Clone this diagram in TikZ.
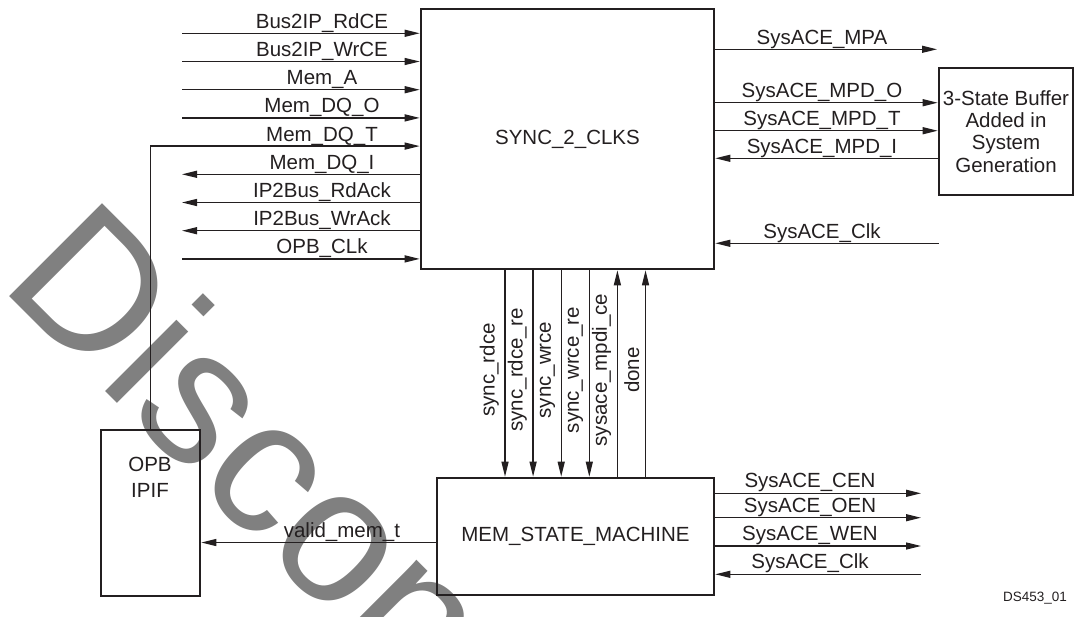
\documentclass[tikz,border=0pt]{standalone}
\usepackage{fontspec}
\setmainfont{Liberation Sans}
\usetikzlibrary{arrows.meta, positioning, calc}
\definecolor{inkblack}{RGB}{35, 31, 32}
\definecolor{markgray}{RGB}{128, 128, 128}
\newcommand{\sigfont}{\fontsize{20.5}{22.3}\selectfont}

\begin{document}
\begin{tikzpicture}[
    x=1pt, y=-1pt,
    >={Triangle[length=15pt, width=7pt]},
    block/.style={rectangle, draw=inkblack, line width=2.6pt, align=center, inner sep=0pt, font=\sigfont, text=inkblack},
    line/.style={draw=inkblack, line width=1.3pt},
    fwd/.style={->},
    bwd/.style={<-},
    siglabel/.style={font=\sigfont, text=inkblack, inner sep=0pt, anchor=base},
    vlabel/.style={siglabel, anchor=south, inner sep=6pt, rotate=90},
    watermark/.style={font=\fontsize{191}{200}\selectfont, text=markgray, inner sep=0pt}
]

% watermark behind everything
\begin{scope}
  \clip (0,0) rectangle (1075,616);
  \node[watermark, anchor=base west, rotate=-45] (wm) at (-1.6,285) {Discontinued};
\end{scope}
\useasboundingbox (0,0) rectangle (1075,616);

\node[block, minimum width=293pt, minimum height=260pt] (sync) at (567.5,139) {SYNC\_2\_CLKS};
\node[block, minimum width=134pt, minimum height=127pt] (buffer) at (1006,131.5) {3-State Buffer\\Added in\\System\\Generation};
\node[block, minimum width=277pt, minimum height=117pt] (mem) at (575.5,536.5) {MEM\_STATE\_MACHINE};
\node[block, minimum width=99pt, minimum height=166pt] (opb) at (150.5,513) {};
\node[siglabel, anchor=center, align=center, font=\fontsize{20.5}{25.7}\selectfont] (opbname) at (150,477.5) {OPB\\IPIF};

% bus side of SYNC_2_CLKS
\foreach \name/\dir [count=\i] in {Bus2IP\_RdCE/fwd, Bus2IP\_WrCE/fwd, Mem\_A/fwd, Mem\_DQ\_O/fwd, Mem\_DQ\_T/fwd, Mem\_DQ\_I/bwd, IP2Bus\_RdAck/bwd, IP2Bus\_WrAck/bwd, OPB\_CLk/fwd} {
  \coordinate (in\i) at (182, 5.1+28.2*\i);
  \draw[line, \dir] (in\i) -- (in\i -| sync.west);
  \node[siglabel] (inlabel\i) at (322, 0.1+28.2*\i) {\name};
}
\draw[line] (opb.north) |- (in5);

% SysACE side of SYNC_2_CLKS
\coordinate (mpa) at (937,49.3);
\draw[line, fwd] (mpa -| sync.east) -- (mpa);
\node[siglabel] (mpalabel) at (822,44.3) {SysACE\_MPA};
\foreach \name/\dir/\ypos [count=\i] in {SysACE\_MPD\_O/fwd/102.7, SysACE\_MPD\_T/fwd/130.7, SysACE\_MPD\_I/bwd/158.3} {
  \coordinate (mpd\i) at (822, \ypos);
  \draw[line, \dir] (mpd\i -| sync.east) -- (mpd\i -| buffer.west);
  \node[siglabel] (mpdlabel\i) at (822, \ypos-5) {\name};
}
\coordinate (clkin) at (939,243.3);
\draw[line, bwd] (clkin -| sync.east) -- (clkin);
\node[siglabel] (clkinlabel) at (822,238.3) {SysACE\_Clk};

% handshake between the two blocks
\foreach \name/\dir [count=\i] in {sync\_rdce/fwd, sync\_rdce\_re/fwd, sync\_wrce/fwd, sync\_wrce\_re/fwd, sysace\_mpdi\_ce/bwd, done/bwd} {
  \coordinate (v\i) at (476.9+28.1*\i, 370);
  \draw[line, \dir] (v\i |- sync.south) -- (v\i |- mem.north);
  \node[vlabel] (vlabel\i) at (v\i) {\name};
}

% MEM_STATE_MACHINE outputs
\foreach \name/\dir/\ypos [count=\i] in {SysACE\_CEN/fwd/493.3, SysACE\_OEN/fwd/517.7, SysACE\_WEN/fwd/546, SysACE\_Clk/bwd/574.3} {
  \coordinate (mout\i) at (921, \ypos);
  \draw[line, \dir] (mout\i -| mem.east) -- (mout\i);
  \node[siglabel] (moutlabel\i) at (810, \ypos-5.5) {\name};
}

\draw[line, fwd] ([yshift=-6pt]mem.west) -- ([yshift=-6pt]mem.west -| opb.east)
  node[siglabel, pos=0.4, yshift=5.5pt] (validlabel) {valid\_mem\_t};

\node[siglabel, font=\fontsize{13.5}{15}\selectfont, anchor=base west] (figid) at (1003,601.5) {DS453\_01};

\end{tikzpicture}
\end{document}
